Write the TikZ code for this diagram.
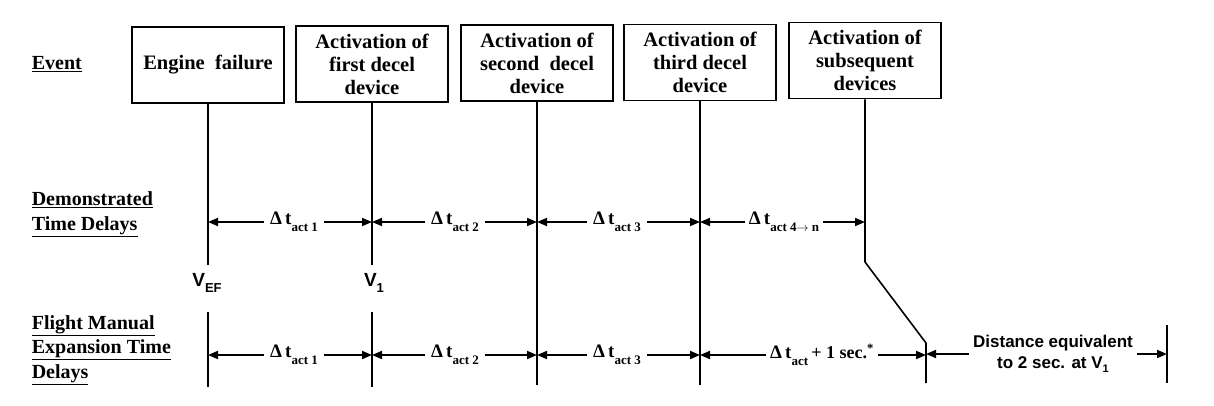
\documentclass[tikz,border=0pt]{standalone}
\usepackage{fontspec}
\setmainfont{Liberation Serif}
\setsansfont{Liberation Sans}
\usetikzlibrary{arrows.meta}

% delay label: Delta t with a dropped index
\newcommand{\dtact}[1]{Δ\,t\raisebox{-0.75ex}{\fontsize{13}{13}\selectfont act #1}}

\begin{document}
\begin{tikzpicture}[x=1pt,y=-1pt,line width=1.6pt,
	event/.style={draw, line width=1.6pt, minimum width=152pt, minimum height=76pt, inner sep=2pt,
		align=center, font=\bfseries\fontsize{20.5}{23}\selectfont},
	rowlabel/.style={anchor=west, align=left, inner sep=0pt, font=\bfseries\fontsize{20}{24.5}\selectfont},
	delay/.style={inner sep=5pt, font=\bfseries\fontsize{19}{20}\selectfont},
	dim/.style={-{Triangle[length=10pt,width=8pt]}, line width=1.8pt},
	speed/.style={inner sep=0pt, font=\sffamily\bfseries\fontsize{19}{20}\selectfont}]
	\useasboundingbox (0,0) rectangle (1214,406);

	% row titles
	\node (evt) [rowlabel] at (31,64) {\underline{Event}};
	\node (demo) [rowlabel] at (31,214) {\underline{Demonstrated}\\\underline{Time Delays}};
	\node (afm) [rowlabel] at (31,350) {\underline{Flight Manual}\\\underline{Expansion Time}\\\underline{Delays}};

	% event boxes
	\node (ef) [event] at (208,65) {Engine\ \ failure};
	\node (act1) [event] at (372,64) {Activation of\\first decel\\device};
	\node (act2) [event] at (537,63) {Activation of\\second\ \ decel\\device};
	\node (act3) [event] at (700,62.5) {Activation of\\third decel\\device};
	\node (actn) [event] at (865,60.5) {Activation of\\subsequent\\devices};

	% ends of the time lines
	\coordinate (efdemo) at (208,265);
	\coordinate (v1demo) at (372,265);
	\coordinate (eftop) at (208,312);
	\coordinate (efbot) at (208,387);
	\coordinate (v1top) at (372,312);
	\coordinate (v1bot) at (372,387);
	\coordinate (act2bot) at (537,385);
	\coordinate (act3bot) at (700,385);
	\coordinate (bendA) at (865,262);
	\coordinate (bendB) at (926,343);
	\coordinate (bendC) at (926,383);
	\coordinate (endtop) at (1167,325);
	\coordinate (endbot) at (1167,383);

	\draw (ef.south) -- (efdemo);
	\draw (act1.south) -- (v1demo);
	\draw (eftop) -- (efbot);
	\draw (v1top) -- (v1bot);
	\draw (act2.south) -- (act2bot);
	\draw (act3.south) -- (act3bot);
	\draw[line join=round] (actn.south) -- (bendA) -- (bendB) -- (bendC);
	\draw (endtop) -- (endbot);

	% speeds
	\node (vef) [speed] at (207,283) {V\raisebox{-0.55ex}{\fontsize{13}{13}\selectfont EF}};
	\node (vone) [speed] at (374,283) {V\raisebox{-0.55ex}{\fontsize{13}{13}\selectfont 1}};

	% demonstrated delays
	\node (a1) [delay] at (294,222) {\dtact{1}};
	\node (a2) [delay] at (455,222) {\dtact{2}};
	\node (a3) [delay] at (617,222) {\dtact{3}};
	\node (a4) [delay, inner sep=3pt] at (784,222) {Δ\,t\raisebox{-0.75ex}{\fontsize{13}{13}\selectfont act 4$\rightarrow$ n}};
	\draw[dim] (a1.west) -- (a1.west -| ef.south);
	\draw[dim] (a1.east) -- (a1.east -| act1.south);
	\draw[dim] (a2.west) -- (a2.west -| act1.south);
	\draw[dim] (a2.east) -- (a2.east -| act2.south);
	\draw[dim] (a3.west) -- (a3.west -| act2.south);
	\draw[dim] (a3.east) -- (a3.east -| act3.south);
	\draw[dim] (a4.west) -- (a4.west -| act3.south);
	\draw[dim] (a4.east) -- (a4.east -| actn.south);

	% flight manual delays
	\node (b1) [delay] at (294,355) {\dtact{1}};
	\node (b2) [delay] at (455,355) {\dtact{2}};
	\node (b3) [delay] at (617,355) {\dtact{3}};
	\node (b4) [delay, inner sep=3pt] at (822,355) {Δ\,t\raisebox{-0.75ex}{\fontsize{13}{13}\selectfont act}\,{\fontsize{18}{18}\selectfont + 1 sec.\textsuperscript{*}}};
	\node (b5) [delay, inner sep=3pt, align=center, font=\sffamily\bfseries\fontsize{17}{21}\selectfont] at (1053,354)
		{Distance equivalent\\to 2 sec. at V\raisebox{-0.5ex}{\fontsize{11}{11}\selectfont 1}};
	\draw[dim] (b1.west) -- (b1.west -| eftop);
	\draw[dim] (b1.east) -- (b1.east -| v1top);
	\draw[dim] (b2.west) -- (b2.west -| v1top);
	\draw[dim] (b2.east) -- (b2.east -| act2.south);
	\draw[dim] (b3.west) -- (b3.west -| act2.south);
	\draw[dim] (b3.east) -- (b3.east -| act3.south);
	\draw[dim] (b4.west) -- (b4.west -| act3.south);
	\draw[dim] (b4.east) -- (b4.east -| bendB);
	\draw[dim] (b5.west) -- (b5.west -| bendB);
	\draw[dim] (b5.east) -- (b5.east -| endtop);
\end{tikzpicture}
\end{document}
